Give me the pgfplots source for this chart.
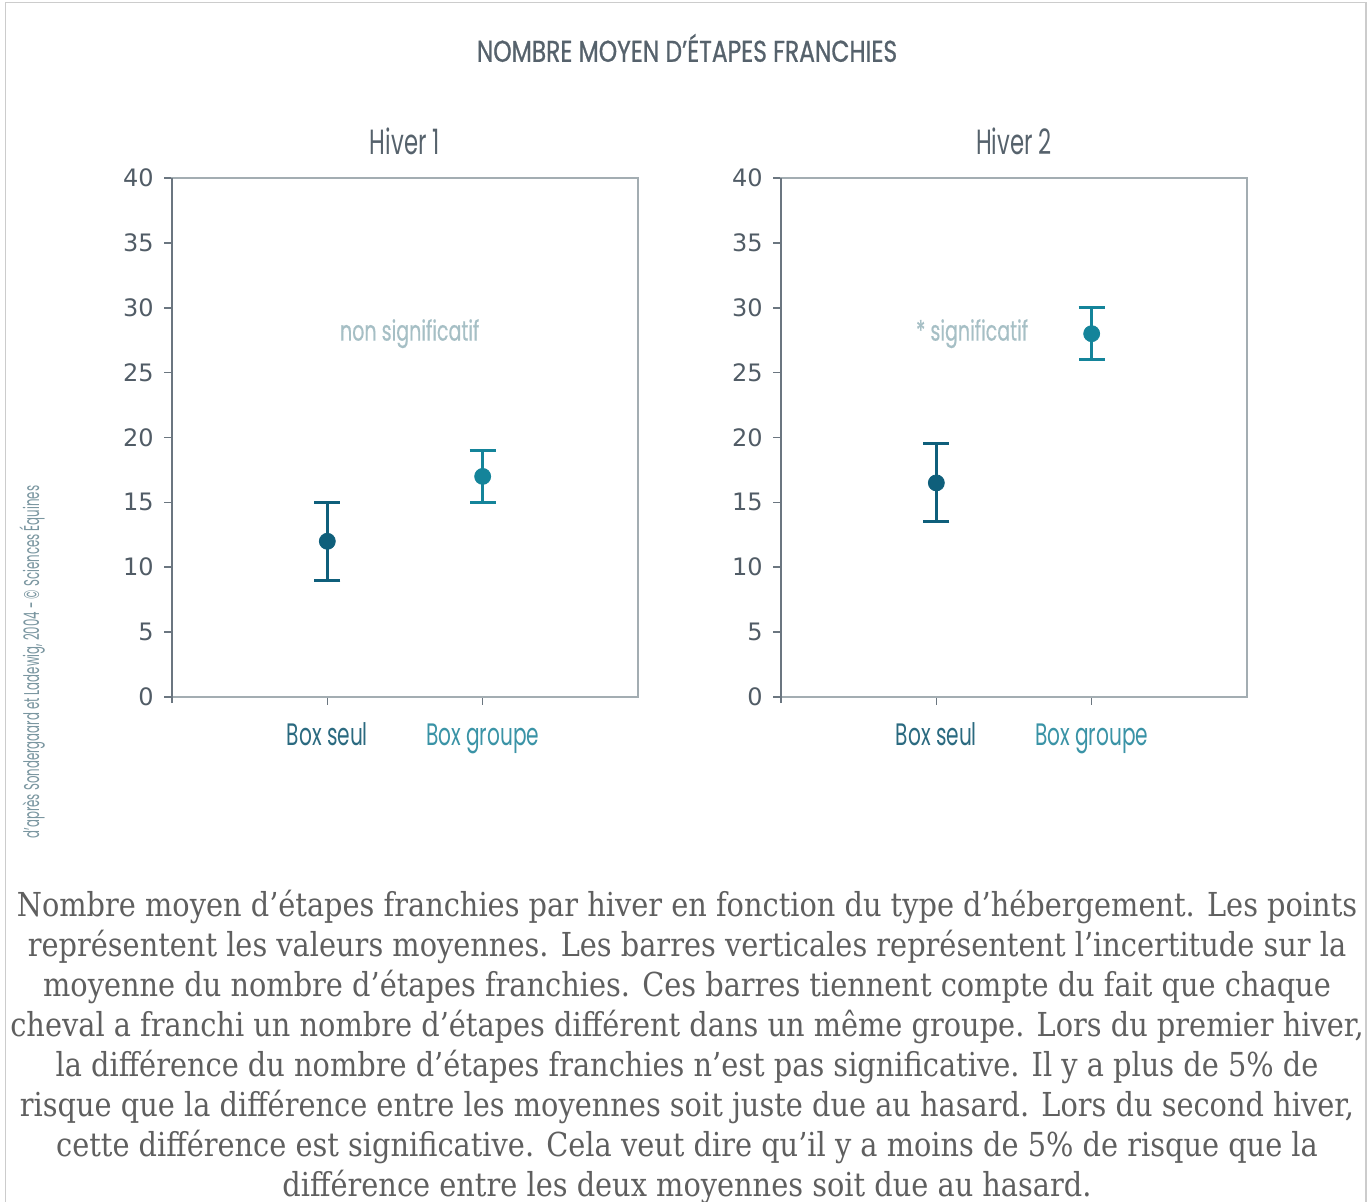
\documentclass[border=0pt]{standalone}
\usepackage{pgfplots}
\pgfplotsset{compat=1.18}
\usepackage{fontspec}
\setmainfont{DejaVu Serif}[FakeStretch=0.873]
\newfontfamily\tickfont{DejaVu Sans}
\newfontfamily\condfont{Poppins}[FakeStretch=0.65]
\newfontfamily\annotfont{Poppins}[FakeStretch=0.68, FakeBold=0.5]
\newfontfamily\titlefont{Poppins}[FakeStretch=0.78, FakeBold=0.8]
\newfontfamily\creditfont{Poppins}[FakeStretch=0.55]

\definecolor{seul}{HTML}{0F5F7B}
\definecolor{groupe}{HTML}{14849A}
\definecolor{seullab}{HTML}{2B6A80}
\definecolor{groupelab}{HTML}{3A93A6}
\definecolor{axisgray}{HTML}{A3ADB2}
\definecolor{axisdark}{HTML}{6B7680}
\definecolor{ticklab}{HTML}{515C66}
\definecolor{titlecol}{HTML}{56626C}
\definecolor{annot}{HTML}{A6BFC5}
\definecolor{credit}{HTML}{7A96A0}
\definecolor{captioncol}{HTML}{5F5F5F}
\definecolor{framegray}{HTML}{CCCCCC}

\pgfplotsset{
  panel/.style={
    scale only axis,
    width=233pt, height=259.5pt,
    anchor=south west,
    xmin=0, xmax=3, ymin=0, ymax=40,
    xtick={1,2},
    xticklabels={\textcolor{seullab}{Box seul},\textcolor{groupelab}{Box groupe}},
    ytick={0,5,...,40},
    xtick pos=bottom, ytick pos=left,
    tick align=outside,
    major tick length=4pt,
    axis line style={color=axisgray, line width=1pt},
    tick style={color=axisdark, line width=0.8pt},
    /pgf/number format/assume math mode=true,
    yticklabel style={font=\tickfont\fontsize{12}{12}\selectfont, color=ticklab, anchor=east, inner sep=0pt, xshift=-5pt},
    xticklabel style={font=\condfont\fontsize{15.5}{16}\selectfont, anchor=base, inner sep=0pt, yshift=-20.5pt},
    title style={font=\condfont\fontsize{17.5}{18}\selectfont, color=titlecol, at={(0.5,1)}, anchor=base, yshift=5.5pt},
    clip=false,
  },
  pt/.style={
    only marks, mark=*, mark size=4pt, color=#1,
    mark options={draw=#1, fill=#1},
    error bars/.cd, y dir=both, y explicit,
    error bar style={line width=1.5pt, color=#1},
    error mark options={rotate=90, mark size=6.5pt, line width=1.5pt, color=#1},
  },
}

\begin{document}
\begin{tikzpicture}
\path[use as bounding box] (0,0) rectangle (685pt,601pt);
\clip (0,0) rectangle (685pt,601pt);
\draw[framegray, line width=0.7pt] (2.8pt,-2pt) rectangle (683pt,599.6pt);

\node[font=\titlefont\fontsize{15}{15}\selectfont, color=titlecol] at (343.5pt,577pt) {NOMBRE MOYEN D’ÉTAPES FRANCHIES};

\begin{axis}[panel, at={(86pt,252.5pt)}, title={Hiver 1}]
  \addplot[pt=seul] coordinates {(1,12) +- (0,3)};
  \addplot[pt=groupe] coordinates {(2,17) +- (0,2)};
  \node[font=\annotfont\fontsize{14}{14}\selectfont, color=annot] at (axis cs:1.53,28.0) {non significatif};
  \draw[axisdark, line width=1pt] (rel axis cs:0,-0.012) -- (rel axis cs:0,1);
\end{axis}

\begin{axis}[panel, at={(390.5pt,252.5pt)}, title={Hiver 2}]
  \addplot[pt=seul] coordinates {(1,16.5) +- (0,3)};
  \addplot[pt=groupe] coordinates {(2,28) +- (0,2)};
  \node[font=\annotfont\fontsize{14}{14}\selectfont, color=annot] at (axis cs:1.23,28.0) {* significatif};
  \draw[axisdark, line width=1pt] (rel axis cs:0,-0.012) -- (rel axis cs:0,1);
\end{axis}

\node[rotate=90, font=\creditfont\fontsize{10.7}{11}\selectfont, color=credit] at (16pt,270pt) {d’après Sondergaard et Ladewig, 2004 - © Sciences Équines};

\begin{scope}[every node/.style={anchor=base, inner sep=0pt, font=\fontsize{16.5}{20}\selectfont, color=captioncol}]
\node at (343.5pt,142.5pt) {Nombre moyen d’étapes franchies par hiver en fonction du type d’hébergement. Les points};
\node at (343.5pt,122.5pt) {représentent les valeurs moyennes. Les barres verticales représentent l’incertitude sur la};
\node at (343.5pt,102.5pt) {moyenne du nombre d’étapes franchies. Ces barres tiennent compte du fait que chaque};
\node at (343.5pt,82.5pt) {cheval a franchi un nombre d’étapes différent dans un même groupe. Lors du premier hiver,};
\node at (343.5pt,62.5pt) {la différence du nombre d’étapes franchies n’est pas significative. Il y a plus de 5\% de};
\node at (343.5pt,42.5pt) {risque que la différence entre les moyennes soit juste due au hasard. Lors du second hiver,};
\node at (343.5pt,22.5pt) {cette différence est significative. Cela veut dire qu’il y a moins de 5\% de risque que la};
\node at (343.5pt,2.5pt) {différence entre les deux moyennes soit due au hasard.};
\end{scope}
\end{tikzpicture}
\end{document}
